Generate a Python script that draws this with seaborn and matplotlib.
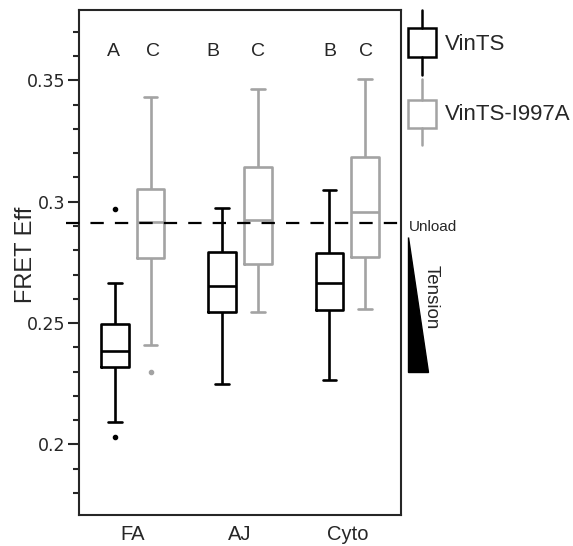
import pandas as pd
import seaborn as sns
import matplotlib.pyplot as plt
from matplotlib.patches import Polygon, Rectangle
from matplotlib.ticker import MultipleLocator

sns.set_style("ticks")
plt.rcParams['font.family'] = ['Liberation Sans', 'DejaVu Sans']

sites = ['FA', 'AJ', 'Cyto']
constructs = ['VinTS', 'VinTS-I997A']

# five-number summaries (FA, AJ, Cyto)
vints_lo = [0.2091, 0.2247, 0.2264]
vints_q1 = [0.2317, 0.2544, 0.2553]
vints_med = [0.2386, 0.2652, 0.2665]
vints_q3 = [0.2496, 0.2791, 0.2787]
vints_hi = [0.2663, 0.2975, 0.3048]
vints_out_lo = [0.2029, None, None]
vints_out_hi = [0.2972, None, None]

mut_lo = [0.2408, 0.2546, 0.2556]
mut_q1 = [0.2769, 0.2743, 0.2773]
mut_med = [0.2915, 0.2924, 0.2957]
mut_q3 = [0.3054, 0.3144, 0.3185]
mut_hi = [0.3430, 0.3464, 0.3504]
mut_out_lo = [0.2297, None, None]
mut_out_hi = [None, None, None]

letters = ['A', 'C', 'B', 'C', 'B', 'C']
letter_x = [-0.18, 0.19, 0.75, 1.17, 1.84, 2.17]
letter_y = 0.3618
unload = 0.2913
yticks = [0.2, 0.25, 0.3, 0.35]
ytick_labels = ['0.2', '0.25', '0.3', '0.35']

gray = '#a3a3a3'


def points(lo, q1, med, q3, hi, out_lo, out_hi):
    # 9 values whose quartiles/whiskers reproduce the summary
    first = lo if out_lo is None else out_lo
    last = hi if out_hi is None else out_hi
    return [first, lo, q1, q1, med, q3, q3, hi, last]


rows = []
for i, s in enumerate(sites):
    for v in points(vints_lo[i], vints_q1[i], vints_med[i], vints_q3[i], vints_hi[i],
                    vints_out_lo[i], vints_out_hi[i]):
        rows.append((s, 'VinTS', v))
    for v in points(mut_lo[i], mut_q1[i], mut_med[i], mut_q3[i], mut_hi[i],
                    mut_out_lo[i], mut_out_hi[i]):
        rows.append((s, 'VinTS-I997A', v))
df = pd.DataFrame(rows, columns=['site', 'construct', 'fret'])

fig = plt.figure(figsize=(5.73, 5.46), dpi=100)
ax = fig.add_axes([79 / 573, 1 - 515 / 546, 322 / 573, 505 / 546])

sns.boxplot(data=df, x='site', y='fret', hue='construct', order=sites, hue_order=constructs,
            palette={'VinTS': 'black', 'VinTS-I997A': gray}, fill=False,
            width=0.667, gap=0.23, linewidth=1.9, whis=1.5,
            flierprops=dict(marker='o', markersize=3), legend=False, ax=ax)

# filled outlier dots
for ln in ax.lines:
    if ln.get_marker() == 'o':
        ln.set_markerfacecolor(ln.get_markeredgecolor())

ax.plot([-0.04, 1.0], [unload, unload], transform=ax.get_yaxis_transform(),
        color='black', lw=1.6, linestyle=(0, (6, 5)), clip_on=False, zorder=5)

for lx, lt in zip(letter_x, letters):
    ax.text(lx, letter_y, lt, ha='center', va='center', fontsize=14)

ax.set_xlim(-0.5, 2.5)
ax.set_ylim(0.1709, 0.379)
ax.set_yticks(yticks)
ax.set_yticklabels(ytick_labels, family='DejaVu Sans', fontsize=12.5)
ax.yaxis.set_minor_locator(MultipleLocator(0.01))
ax.tick_params(axis='y', which='major', direction='out', length=8, width=1.5, pad=2)
ax.tick_params(axis='y', which='minor', direction='out', length=4.5, width=1.5)
ax.tick_params(axis='x', length=0, pad=7, labelsize=14.5)
for sp in ax.spines.values():
    sp.set_linewidth(1.5)
ax.set_xlabel('')
ax.set_ylabel('FRET Eff', fontsize=17)
ax.yaxis.set_label_coords(-0.13, 0.515)

# legend glyphs and tension annotation in pixel space
ov = fig.add_axes([0, 0, 1, 1])
ov.set_xlim(0, 573)
ov.set_ylim(546, 0)
ov.axis('off')
for col, top, b0, b1, bot in [('black', 10, 28, 57, 75), (gray, 79, 100, 128, 145)]:
    ov.plot([421.5, 421.5], [top, b0], color=col, lw=1.8)
    ov.plot([421.5, 421.5], [b1, bot], color=col, lw=1.8)
    ov.add_patch(Rectangle((407.5, b0), 28, b1 - b0, fill=False, edgecolor=col, lw=1.8))
ov.text(445, 45, 'VinTS', fontsize=16, va='center', ha='left')
ov.text(445, 114, 'VinTS-I997A', fontsize=16, va='center', ha='left')
ov.text(409, 227, 'Unload', fontsize=11, va='center', ha='left')
ov.add_patch(Polygon([(408, 237), (408, 372), (428, 372)], closed=True, color='black'))
ov.text(431, 297, 'Tension', fontsize=13.5, rotation=-90, va='center', ha='center')

plt.savefig('out.png', dpi=100)
